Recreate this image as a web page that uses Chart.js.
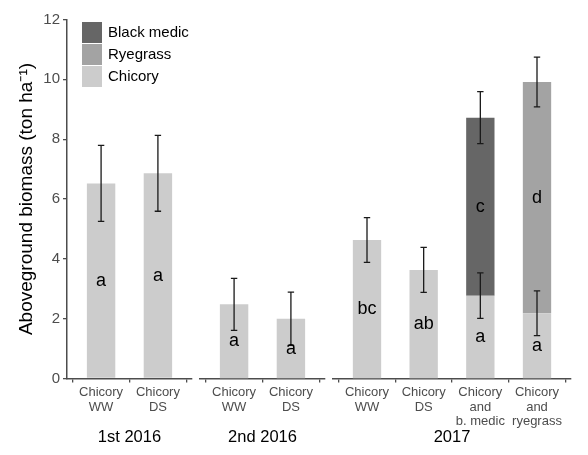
<!DOCTYPE html>
<html>
<head>
<meta charset="utf-8">
<script src="https://cdn.jsdelivr.net/npm/chart.js@4/dist/chart.umd.min.js"></script>
<style>
  html, body { margin: 0; padding: 0; background: #ffffff; }
  #wrap { position: relative; width: 588px; height: 455px; }
  #wrap canvas { position: absolute; left: 0; top: 0; }
</style>
</head>
<body>
<div id="wrap">
  <canvas id="panel1" width="588" height="455"></canvas>
  <canvas id="panel2" width="588" height="455"></canvas>
  <canvas id="panel3" width="588" height="455"></canvas>
</div>
<script>
// Harvest periods (one facet each) and which period every bar belongs to
const periods = ['1st 2016', '2nd 2016', '2017'];
const periodOfBar = [0, 0, 1, 1, 2, 2, 2, 2];

// Treatment tick labels (multi-line)
const treatments = [
  ['Chicory', 'WW'], ['Chicory', 'DS'],
  ['Chicory', 'WW'], ['Chicory', 'DS'],
  ['Chicory', 'WW'], ['Chicory', 'DS'],
  ['Chicory', 'and', 'b. medic'], ['Chicory', 'and', 'ryegrass']
];

// Aboveground biomass (ton/ha) and standard errors
const chicory    = [6.52, 6.86, 2.48, 2.00, 4.63, 3.63, 2.77, 2.18];
const chicorySE  = [1.27, 1.27, 0.87, 0.89, 0.75, 0.75, 0.76, 0.75];
const blackMedic = [null, null, null, null, null, null, 5.95, null];
const ryegrass   = [null, null, null, null, null, null, null, 7.73];
const mixtureSE  = [null, null, null, null, null, null, 0.87, 0.83];

// Significance letters
const chicoryLetters   = ['a', 'a', 'a', 'a', 'bc', 'ab', 'a', 'a'];
const companionLetters = [null, null, null, null, null, null, 'c', 'd'];

// Y axis range
const yMin = 0, yMax = 12, yStep = 2;

const FONT = "'Liberation Sans', Arial, Helvetica, sans-serif";
const AXIS_GREY = '#4d4d4d';
const colours = { 'Chicory': '#cccccc', 'Ryegrass': '#a3a3a3', 'Black medic': '#666666' };

Chart.defaults.font.family = FONT;

// Error bars and letters, drawn on top of the bars through the chart's scales
const annotations = {
  id: 'annotations',
  afterDatasetsDraw(chart, args, opts) {
    const { ctx, scales: { x, y } } = chart;
    const bars = opts.bars;
    ctx.save();
    // error bars
    ctx.strokeStyle = '#1a1a1a';
    ctx.lineWidth = 1.3;
    const cap = 3.2;
    const errBar = (px, mean, se) => {
      const top = y.getPixelForValue(mean + se);
      const bot = y.getPixelForValue(mean - se);
      ctx.beginPath();
      ctx.moveTo(px, top); ctx.lineTo(px, bot);
      ctx.moveTo(px - cap, top); ctx.lineTo(px + cap, top);
      ctx.moveTo(px - cap, bot); ctx.lineTo(px + cap, bot);
      ctx.stroke();
    };
    bars.forEach((i, k) => {
      const px = x.getPixelForValue(k + 1);
      errBar(px, chicory[i], chicorySE[i]);
      const comp = blackMedic[i] != null ? blackMedic[i] : ryegrass[i];
      if (comp != null && mixtureSE[i] != null) errBar(px, chicory[i] + comp, mixtureSE[i]);
    });
    // letters at the middle of each stacked segment
    ctx.fillStyle = '#000000';
    ctx.font = '18px ' + FONT;
    ctx.textAlign = 'center';
    ctx.textBaseline = 'middle';
    bars.forEach((i, k) => {
      const px = x.getPixelForValue(k + 1);
      ctx.fillText(chicoryLetters[i], px, y.getPixelForValue(chicory[i] / 2));
      const comp = blackMedic[i] != null ? blackMedic[i] : ryegrass[i];
      if (comp != null && companionLetters[i]) {
        ctx.fillText(companionLetters[i], px, y.getPixelForValue(chicory[i] + comp / 2));
      }
    });
    ctx.restore();
  }
};

// Legend with square keys inside the first panel (stack order reversed)
const insideLegend = {
  id: 'insideLegend',
  afterDraw(chart, args, opts) {
    if (!opts.show) return;
    const { ctx, chartArea } = chart;
    const items = ['Black medic', 'Ryegrass', 'Chicory'];
    ctx.save();
    ctx.font = '15px ' + FONT;
    ctx.textBaseline = 'middle';
    ctx.textAlign = 'left';
    items.forEach((name, j) => {
      const bx = chartArea.left + 15;
      const by = chartArea.top + 2.5 + j * 22;
      ctx.fillStyle = colours[name];
      ctx.fillRect(bx, by, 20, 21);
      ctx.fillStyle = '#000000';
      ctx.fillText(name, bx + 26, by + 11);
    });
    ctx.restore();
  }
};

function buildPanel(canvasId, p, padLeft, padRight, withYAxis) {
  const bars = periodOfBar.map((q, i) => q === p ? i : -1).filter(i => i >= 0);
  const n = bars.length;
  const points = arr => bars.map((i, k) => ({ x: k + 1, y: arr[i] })).filter(d => d.y != null);

  const dataset = (label, arr) => ({
    label,
    data: points(arr),
    backgroundColor: colours[label],
    borderWidth: 0,
    barPercentage: 0.5,
    categoryPercentage: 1.0
  });

  return new Chart(document.getElementById(canvasId), {
    type: 'bar',
    data: {
      datasets: [
        dataset('Chicory', chicory),
        dataset('Black medic', blackMedic),
        dataset('Ryegrass', ryegrass)
      ]
    },
    options: {
      responsive: false,
      animation: false,
      layout: { padding: { left: padLeft, right: padRight, top: 19.5, bottom: 8 } },
      plugins: {
        legend: { display: false },
        tooltip: { enabled: false },
        annotations: { bars },
        insideLegend: { show: withYAxis }
      },
      scales: {
        x: {
          type: 'linear',
          stacked: true,
          offset: false,
          min: 0.4,
          max: n + 0.6,
          afterBuildTicks: scale => { scale.ticks = bars.map((i, k) => ({ value: k + 1 })); },
          afterFit: scale => { scale.height = 68.5; },
          ticks: {
            autoSkip: false,
            maxRotation: 0,
            padding: 2,
            color: AXIS_GREY,
            font: { size: 13, lineHeight: 1.15 },
            callback: value => treatments[bars[Math.round(value) - 1]]
          },
          grid: { display: true, drawOnChartArea: false, drawTicks: true, tickLength: 4, color: AXIS_GREY, lineWidth: 1.3 },
          border: { display: true, color: AXIS_GREY, width: 1.5 },
          title: {
            display: true,
            text: periods[p],
            color: '#000000',
            font: { size: 16.5, lineHeight: 1.2 },
            padding: { top: 0, bottom: 0 }
          }
        },
        y: {
          display: withYAxis,
          stacked: true,
          min: yMin,
          max: yMax,
          afterFit: scale => { if (withYAxis) scale.width = 67; },
          ticks: { stepSize: yStep, color: AXIS_GREY, padding: 3, font: { size: 15 } },
          grid: { display: true, drawOnChartArea: false, drawTicks: true, tickLength: 4, color: AXIS_GREY, lineWidth: 1.3 },
          border: { display: true, color: AXIS_GREY, width: 1.5 },
          title: {
            display: true,
            text: 'Aboveground biomass (ton ha\u207B\u00B9)',
            color: '#000000',
            font: { size: 19, lineHeight: 1.2 },
            padding: { top: 15.5, bottom: 0 }
          }
        }
      }
    },
    plugins: [annotations, insideLegend]
  });
}

buildPanel('panel1', 0, 0, 396, true);
buildPanel('panel2', 1, 200, 263, false);
buildPanel('panel3', 2, 333, 17, false);
</script>
</body>
</html>
